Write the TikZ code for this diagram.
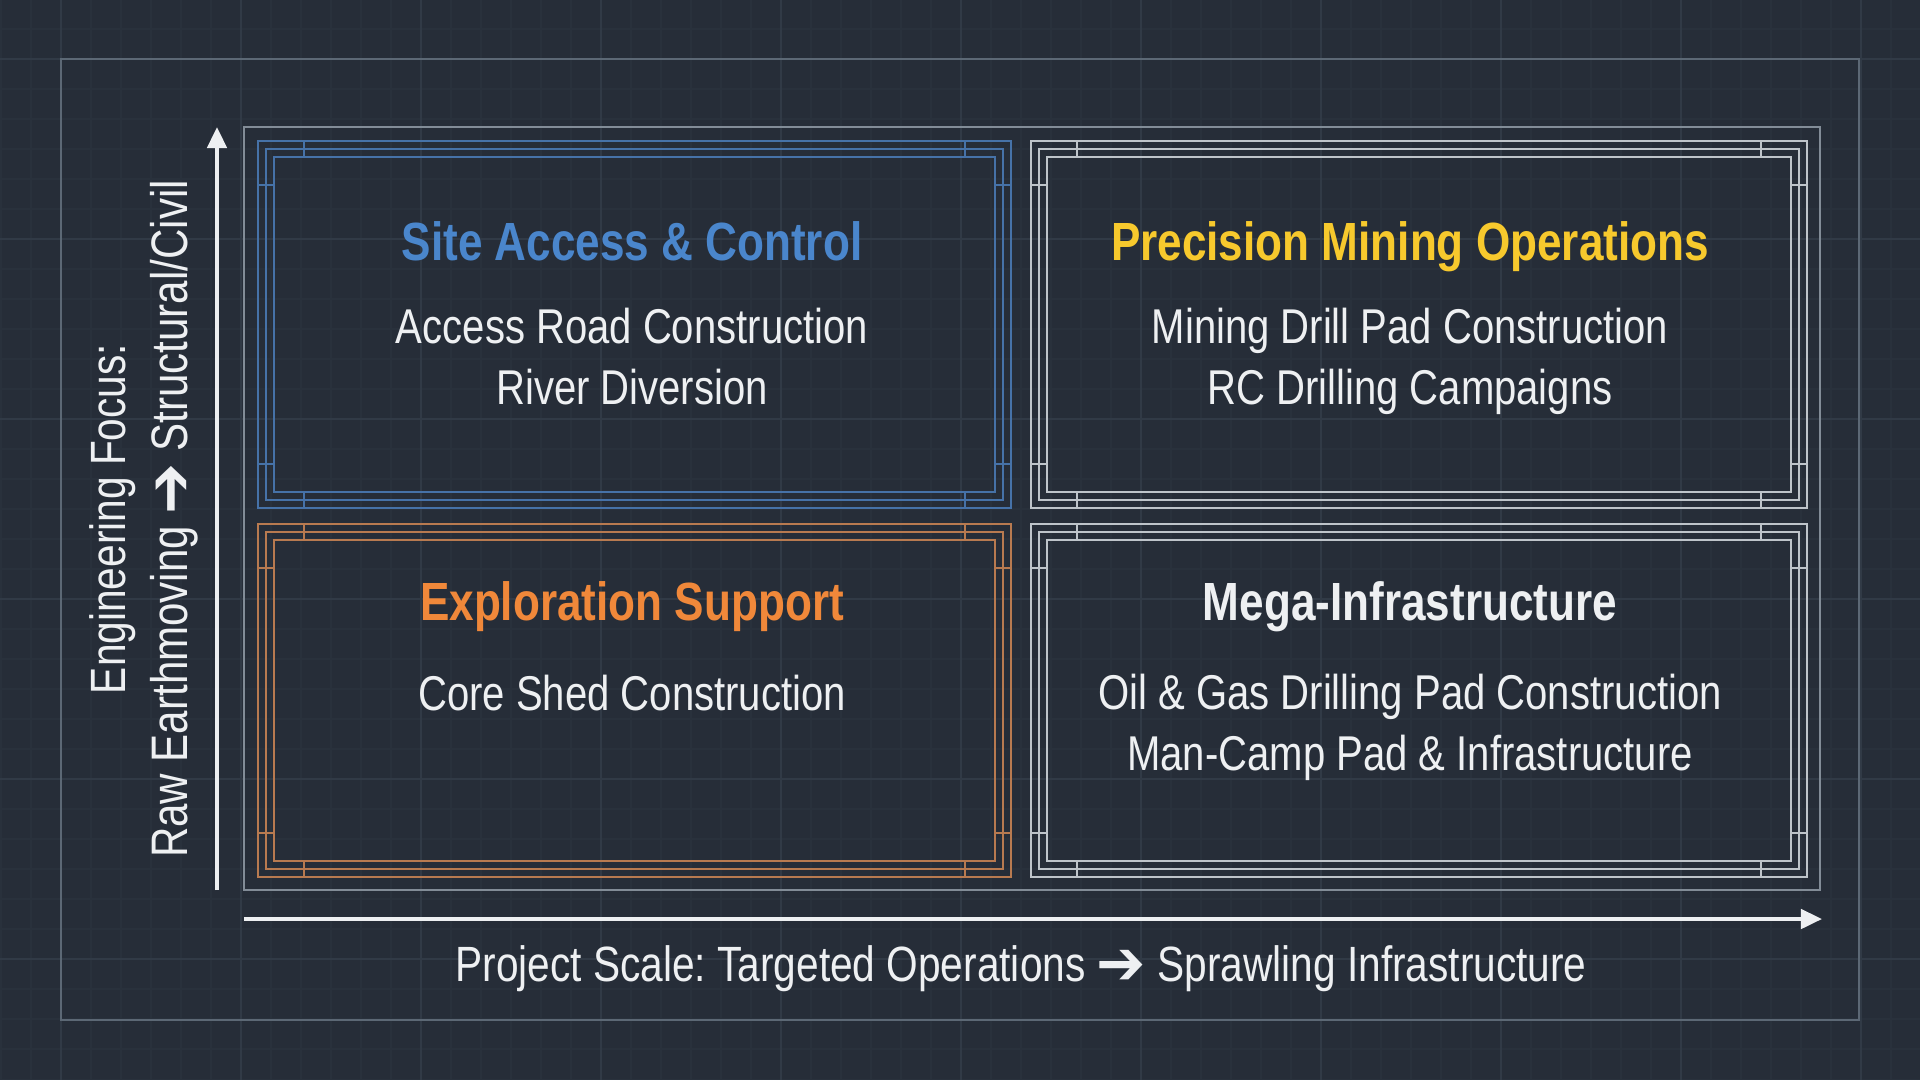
\documentclass[tikz,border=0pt]{standalone}
\usepackage{fontspec}
\setmainfont{Liberation Sans}[FakeStretch=0.82]
\newfontfamily\arrowfont{DejaVu Sans}[FakeStretch=0.95]
\usetikzlibrary{arrows.meta}
\frenchspacing

\definecolor{bgcol}{RGB}{38,45,56}
\definecolor{gridminor}{RGB}{41,49,60}
\definecolor{gridmajor}{RGB}{49,58,70}
\definecolor{framecol}{RGB}{92,104,117}
\definecolor{plotcol}{RGB}{130,140,151}
\definecolor{lineblue}{RGB}{70,114,168}
\definecolor{lineorange}{RGB}{184,122,80}
\definecolor{linegray}{RGB}{190,196,202}
\definecolor{titleblue}{RGB}{74,134,204}
\definecolor{titleyellow}{RGB}{247,201,45}
\definecolor{titleorange}{RGB}{240,136,58}
\definecolor{textwhite}{RGB}{238,240,242}

\newcommand{\heavyarrow}{\raisebox{-0.15ex}{\scalebox{1.25}{\arrowfont\bfseries\char"2794}}}

\begin{document}
\begin{tikzpicture}[x=0.1mm,y=-0.1mm,
    boxline/.style={line width=0.5pt},
    qtitle/.style={anchor=base,font=\fontsize{15.3}{18}\selectfont\bfseries},
    qbody/.style={anchor=base,align=center,text=textwhite,
        font=\fontsize{13.9}{17.1}\selectfont},
    axislabel/.style={anchor=base,text=textwhite,font=\fontsize{14.1}{17}\selectfont},
    axisarrow/.style={draw=textwhite,line width=1.1pt,
        -{Triangle[length=6pt,width=5.5pt]}}]
% background
\fill[bgcol] (0,0) rectangle (1920,1080);
\useasboundingbox (0,0) rectangle (1920,1080);

% faint blueprint grid
\foreach \x in {1,31,...,1920}
    \draw[gridminor,line width=0.3pt] (\x,0) -- (\x,1080);
\foreach \y in {29,59,...,1080}
    \draw[gridminor,line width=0.3pt] (0,\y) -- (1920,\y);
\foreach \x in {61,241,...,1920}
    \draw[gridmajor,line width=0.4pt] (\x,0) -- (\x,1080);
\foreach \y in {59,239,...,1080}
    \draw[gridmajor,line width=0.4pt] (0,\y) -- (1920,\y);

% outer frame and plot frame
\draw[framecol,line width=0.5pt] (61,59) rectangle (1859,1020);
\draw[plotcol,line width=0.45pt] (244,127) rectangle (1820,890);

% quadrant frames: three nested lines with corner ticks
\foreach \xa/\ya/\xb/\yb/\col in {258/141/1011/508/lineblue,
    1031/141/1807/508/linegray, 258/524/1011/877/lineorange,
    1031/524/1807/877/linegray} {
    \foreach \d in {0,8,16}
        \draw[boxline,\col] (\xa+\d,\ya+\d) rectangle (\xb-\d,\yb-\d);
    \draw[boxline,\col] (\xa+46,\ya) -- (\xa+46,\ya+16)
        (\xb-46,\ya) -- (\xb-46,\ya+16)
        (\xa+46,\yb) -- (\xa+46,\yb-16)
        (\xb-46,\yb) -- (\xb-46,\yb-16)
        (\xa,\ya+44) -- (\xa+16,\ya+44)
        (\xb,\ya+44) -- (\xb-16,\ya+44)
        (\xa,\yb-44) -- (\xa+16,\yb-44)
        (\xb,\yb-44) -- (\xb-16,\yb-44);
}

% Site Access & Control
\node[qtitle,text=titleblue] (accesstitle) at (632,260) {Site Access \& Control};
\node[qbody] (accessbody) at (632,404) {Access Road Construction\\River Diversion};

% Precision Mining Operations
\node[qtitle,text=titleyellow] (miningtitle) at (1410,260) {Precision Mining Operations};
\node[qbody] (miningbody) at (1410,404) {Mining Drill Pad Construction\\RC Drilling Campaigns};

% Exploration Support
\node[qtitle,text=titleorange] (exploretitle) at (632,620) {Exploration Support};
\node[qbody] (explorebody) at (632,710) {Core Shed Construction};

% Mega-Infrastructure
\node[qtitle,text=textwhite] (megatitle) at (1410,620) {Mega-Infrastructure};
\node[qbody] (megabody) at (1410,770) {Oil \& Gas Drilling Pad Construction\\Man-Camp Pad \& Infrastructure};

% axes
\coordinate (yfoot) at (217,890);
\coordinate (ytop) at (217,127);
\coordinate (xfoot) at (244,919);
\coordinate (xtip) at (1822,919);
\draw[axisarrow] (yfoot) -- (ytop);
\draw[axisarrow] (xfoot) -- (xtip);

% axis labels
\node[axislabel] (scalelabel) at (1021,981)
    {Project Scale: Targeted Operations \heavyarrow{} Sprawling Infrastructure};
\node[axislabel,rotate=90] (focuslabel) at (126,519) {Engineering Focus:};
\node[axislabel,rotate=90,font=\fontsize{14.6}{17}\selectfont] (focusrange) at (187,519)
    {Raw Earthmoving \heavyarrow{} Structural/Civil};
\end{tikzpicture}
\end{document}
